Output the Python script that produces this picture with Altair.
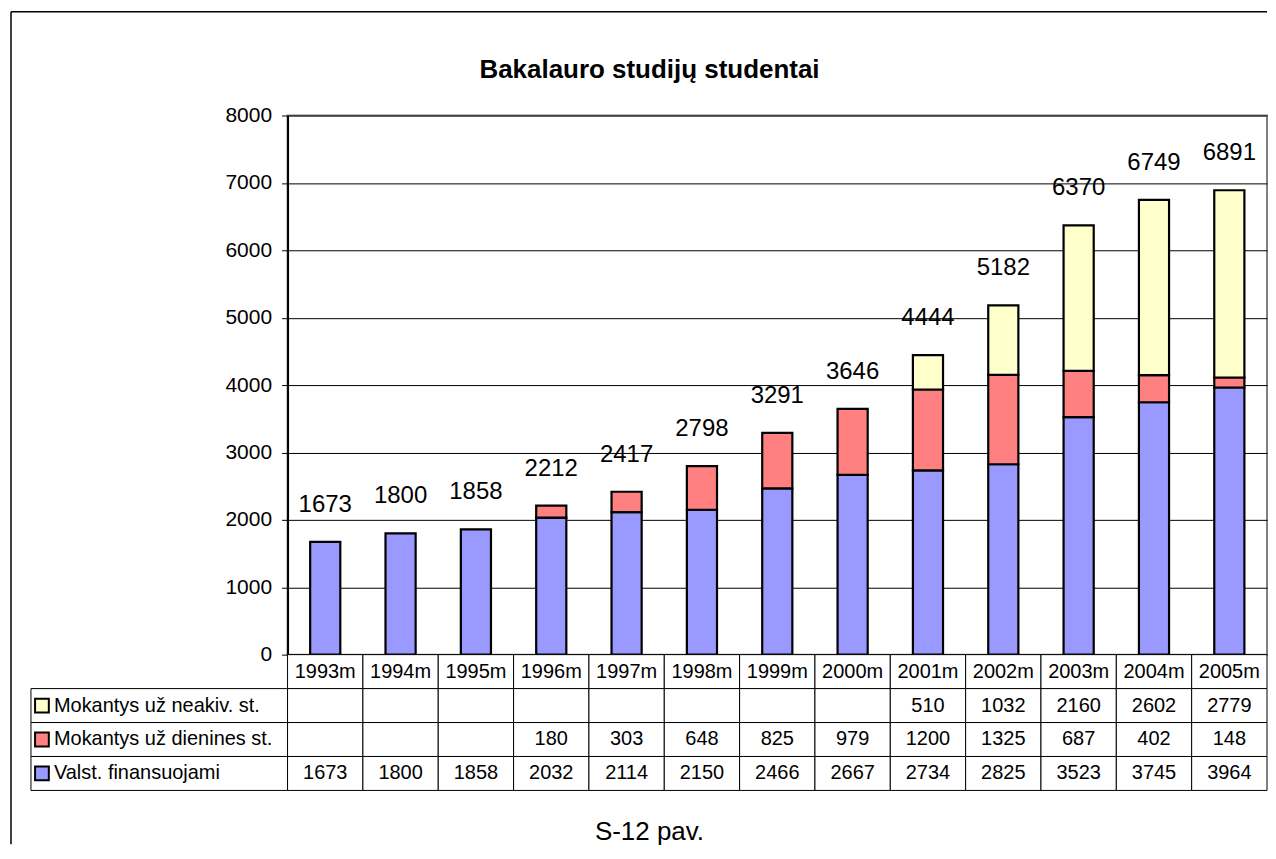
import altair as alt
import pandas as pd

# ---- data ----
years = ["1993m", "1994m", "1995m", "1996m", "1997m", "1998m", "1999m",
         "2000m", "2001m", "2002m", "2003m", "2004m", "2005m"]
valst = [1673, 1800, 1858, 2032, 2114, 2150, 2466, 2667, 2734, 2825, 3523, 3745, 3964]
dienines = [None, None, None, 180, 303, 648, 825, 979, 1200, 1325, 687, 402, 148]
neakiv = [None, None, None, None, None, None, None, None, 510, 1032, 2160, 2602, 2779]
totals = [1673, 1800, 1858, 2212, 2417, 2798, 3291, 3646, 4444, 5182, 6370, 6749, 6891]

series_names = ["Valst. finansuojami", "Mokantys už dienines st.", "Mokantys už neakiv. st."]
series_values = [valst, dienines, neakiv]
series_colors = ["#9999FF", "#FF8080", "#FFFFCC"]
table_rows = ["hdr", "Mokantys už neakiv. st.", "Mokantys už dienines st.", "Valst. finansuojami"]

FONT = "Liberation Sans"

# long table for bars
recs = []
for si, (name, vals) in enumerate(zip(series_names, series_values)):
    for y, v in zip(years, vals):
        if v is not None:
            recs.append({"year": y, "series": name, "value": v, "order": si})
bars_df = pd.DataFrame(recs)
tot_df = pd.DataFrame({"year": years, "total": totals})

# table cells
cells = []
for y in years:
    cells.append({"year": y, "row": "hdr", "label": y})
for name, vals in zip(series_names, series_values):
    for y, v in zip(years, vals):
        cells.append({"year": y, "row": name, "label": "" if v is None else str(v)})
cells_df = pd.DataFrame(cells)
legend_df = pd.DataFrame({"row": series_names, "color": series_colors})

PLOT_W = 981
PLOT_H = 540
LEG_W = 257
ROW_H = 34

xband = alt.Scale(domain=years, paddingInner=0.6, paddingOuter=0.3)
yscale = alt.Scale(domain=[0, 8000])

bars = alt.Chart(bars_df).mark_bar(stroke="black", strokeWidth=2.2).encode(
    x=alt.X("year:N", scale=xband, axis=None, sort=years),
    y=alt.Y("value:Q", stack="zero", scale=yscale,
            axis=alt.Axis(values=list(range(0, 8001, 1000)), title=None, format="d",
                          labelFontSize=21, labelFont=FONT, labelColor="black",
                          tickColor="black", tickSize=6, labelPadding=10,
                          domainColor="black", domainWidth=2,
                          grid=True, gridColor="black", gridWidth=1)),
    color=alt.Color("series:N", scale=alt.Scale(domain=series_names, range=series_colors), legend=None),
    order=alt.Order("order:Q"),
)

tot_text = alt.Chart(tot_df).mark_text(fontSize=24, font=FONT, color="black", dy=-37, baseline="middle").encode(
    x=alt.X("year:N", scale=xband, axis=None, sort=years),
    y=alt.Y("total:Q", scale=yscale),
    text="total:N",
)

bar_chart = alt.layer(bars, tot_text).properties(
    width=PLOT_W, height=PLOT_H,
    view=alt.ViewBackground(stroke="#808080", strokeWidth=2),
    title=alt.TitleParams("Bakalauro studijų studentai", anchor="middle", fontSize=26,
                          font=FONT, fontWeight="bold", color="black", offset=22, dx=-128),
)

# invisible top-left cell that also carries the outer chart-area frame
frame_v = alt.Chart(pd.DataFrame({"a": [0]})).mark_rule(color="black", strokeWidth=1.5).encode(
    x=alt.value(-20), y=alt.value(-104), y2=alt.value(730)
)
frame_h = alt.Chart(pd.DataFrame({"a": [0]})).mark_rule(color="black", strokeWidth=1.5).encode(
    x=alt.value(-20), x2=alt.value(PLOT_W + LEG_W), y=alt.value(-104)
)
spacer = alt.layer(frame_v, frame_h).properties(
    width=LEG_W, height=PLOT_H, view=alt.ViewBackground(strokeOpacity=0)
)

rowscale = alt.Scale(domain=table_rows, paddingInner=0, paddingOuter=0)
tx = alt.Scale(domain=years, paddingInner=0, paddingOuter=0)

cell_rect = alt.Chart(cells_df).mark_rect(fill="white", stroke="black", strokeWidth=1).encode(
    x=alt.X("year:N", scale=tx, axis=None, sort=years),
    y=alt.Y("row:N", scale=rowscale, axis=None, sort=table_rows),
)
cell_text = alt.Chart(cells_df).mark_text(fontSize=20, font=FONT, color="black").encode(
    x=alt.X("year:N", scale=tx, axis=None, sort=years),
    y=alt.Y("row:N", scale=rowscale, axis=None, sort=table_rows),
    text="label:N",
)
table_chart = alt.layer(cell_rect, cell_text).properties(
    width=PLOT_W, height=ROW_H * 4,
    view=alt.ViewBackground(strokeOpacity=0),
    title=alt.TitleParams("S-12 pav.", orient="bottom", anchor="middle", fontSize=26,
                          font=FONT, fontWeight="normal", color="black", offset=28, dx=-128),
)

leg_rect = alt.Chart(legend_df).mark_rect(fill="white", stroke="black", strokeWidth=1).encode(
    y=alt.Y("row:N", scale=rowscale, axis=None, sort=table_rows),
)
leg_sym = alt.Chart(legend_df).mark_point(shape="square", filled=True, size=190, stroke="black",
                                          strokeWidth=2, opacity=1).encode(
    x=alt.value(11),
    y=alt.Y("row:N", scale=rowscale, axis=None, sort=table_rows),
    fill=alt.Fill("color:N", scale=None),
)
leg_text = alt.Chart(legend_df).mark_text(fontSize=20, font=FONT, color="black", align="left").encode(
    x=alt.value(23),
    y=alt.Y("row:N", scale=rowscale, axis=None, sort=table_rows),
    text="row:N",
)
legend_chart = alt.layer(leg_rect, leg_sym, leg_text).properties(
    width=LEG_W, height=ROW_H * 4, view=alt.ViewBackground(strokeOpacity=0)
)

chart = alt.concat(
    spacer, bar_chart, legend_chart, table_chart,
    columns=2, spacing=0, bounds="flush",
).resolve_scale(
    x="independent", y="independent", color="independent", fill="independent"
).properties(
    padding={"left": 2, "top": 2, "right": 0, "bottom": 0},
    background="white",
).configure_view(strokeWidth=0)

chart.save("out.html", embed_options={"renderer": "svg", "actions": False})
